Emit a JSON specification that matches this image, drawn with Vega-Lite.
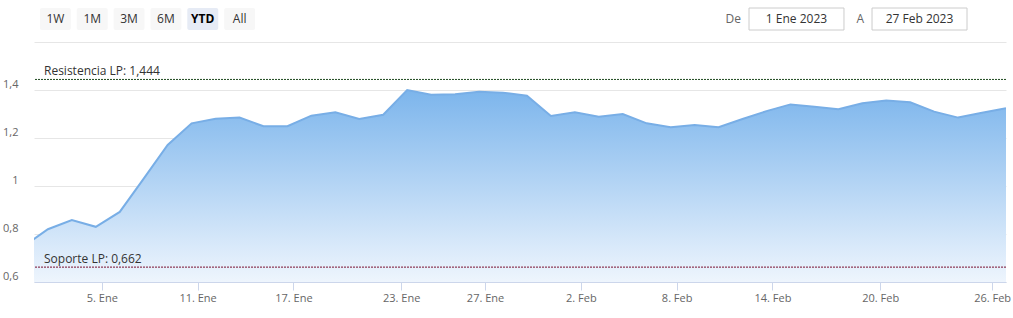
{
  "$schema": "https://vega.github.io/schema/vega-lite/v6.json",
  "autosize": {"type": "pad"},
  "padding": {"left": 2, "top": 7, "right": 0, "bottom": 0},
  "background": "white",
  "config": {"view": {"stroke": null}, "font": "Open Sans"},
  "datasets": {
    "buttons": [
      {"label": "1W", "selected": "no"},
      {"label": "1M", "selected": "no"},
      {"label": "3M", "selected": "no"},
      {"label": "6M", "selected": "no"},
      {"label": "YTD", "selected": "yes"},
      {"label": "All", "selected": "no"}
    ],
    "range": [
      {"label": "De", "value": "1 Ene 2023"},
      {"label": "A", "value": "27 Feb 2023"}
    ],
    "levels": [
      {"level": "Resistencia LP", "value": 1.444, "label": "Resistencia LP: 1,444"},
      {"level": "Soporte LP", "value": 0.662, "label": "Soporte LP: 0,662"}
    ],
    "prices": [
      {"i": -1, "date": "2022-12-30", "value": 0.749},
      {"i": 0, "date": "2023-01-02", "value": 0.820},
      {"i": 1, "date": "2023-01-03", "value": 0.858},
      {"i": 2, "date": "2023-01-04", "value": 0.830},
      {"i": 3, "date": "2023-01-05", "value": 0.892},
      {"i": 4, "date": "2023-01-06", "value": 1.031},
      {"i": 5, "date": "2023-01-09", "value": 1.171},
      {"i": 6, "date": "2023-01-10", "value": 1.261},
      {"i": 7, "date": "2023-01-11", "value": 1.280},
      {"i": 8, "date": "2023-01-12", "value": 1.285},
      {"i": 9, "date": "2023-01-13", "value": 1.249},
      {"i": 10, "date": "2023-01-16", "value": 1.249},
      {"i": 11, "date": "2023-01-17", "value": 1.293},
      {"i": 12, "date": "2023-01-18", "value": 1.307},
      {"i": 13, "date": "2023-01-19", "value": 1.279},
      {"i": 14, "date": "2023-01-20", "value": 1.297},
      {"i": 15, "date": "2023-01-23", "value": 1.400},
      {"i": 16, "date": "2023-01-24", "value": 1.380},
      {"i": 17, "date": "2023-01-25", "value": 1.382},
      {"i": 18, "date": "2023-01-26", "value": 1.393},
      {"i": 19, "date": "2023-01-27", "value": 1.389},
      {"i": 20, "date": "2023-01-30", "value": 1.376},
      {"i": 21, "date": "2023-01-31", "value": 1.292},
      {"i": 22, "date": "2023-02-01", "value": 1.307},
      {"i": 23, "date": "2023-02-02", "value": 1.289},
      {"i": 24, "date": "2023-02-03", "value": 1.300},
      {"i": 25, "date": "2023-02-06", "value": 1.261},
      {"i": 26, "date": "2023-02-07", "value": 1.245},
      {"i": 27, "date": "2023-02-08", "value": 1.254},
      {"i": 28, "date": "2023-02-09", "value": 1.245},
      {"i": 29, "date": "2023-02-10", "value": 1.279},
      {"i": 30, "date": "2023-02-13", "value": 1.312},
      {"i": 31, "date": "2023-02-14", "value": 1.340},
      {"i": 32, "date": "2023-02-15", "value": 1.330},
      {"i": 33, "date": "2023-02-16", "value": 1.320},
      {"i": 34, "date": "2023-02-17", "value": 1.345},
      {"i": 35, "date": "2023-02-20", "value": 1.356},
      {"i": 36, "date": "2023-02-21", "value": 1.349},
      {"i": 37, "date": "2023-02-22", "value": 1.310},
      {"i": 38, "date": "2023-02-23", "value": 1.285},
      {"i": 39, "date": "2023-02-24", "value": 1.305},
      {"i": 40, "date": "2023-02-27", "value": 1.324}
    ]
  },
  "spacing": 11,
  "vconcat": [
    {
      "spacing": 488,
      "bounds": "flush",
      "hconcat": [
        {
          "data": {"name": "buttons"},
          "width": 227,
          "height": 22,
          "encoding": {
            "x": {"field": "label", "type": "nominal", "sort": null, "axis": null,
                  "scale": {"paddingInner": 0.16, "paddingOuter": 0.16}}
          },
          "layer": [
            {
              "mark": {"type": "rect", "cornerRadius": 2},
              "encoding": {
                "color": {"field": "selected", "type": "nominal", "legend": null,
                          "scale": {"domain": ["no", "yes"], "range": ["#f7f7f7", "#e6ebf5"]}}
              }
            },
            {
              "transform": [{"filter": "datum.selected == 'no'"}],
              "mark": {"type": "text", "fontSize": 12, "color": "#333333"},
              "encoding": {"text": {"field": "label"}}
            },
            {
              "transform": [{"filter": "datum.selected == 'yes'"}],
              "mark": {"type": "text", "fontSize": 12, "fontWeight": "bold", "color": "#000000"},
              "encoding": {"text": {"field": "label"}}
            }
          ]
        },
        {
          "data": {"name": "range"},
          "width": 218,
          "height": 22,
          "layer": [
            {
              "mark": {"type": "rect", "fill": "white", "stroke": "#cccccc", "strokeWidth": 1},
              "encoding": {
                "x": {"field": "value", "type": "nominal", "sort": null, "axis": null,
                      "scale": {"paddingInner": 0.228, "paddingOuter": 0}}
              }
            },
            {
              "mark": {"type": "text", "fontSize": 12, "color": "#333333"},
              "encoding": {
                "x": {"field": "value", "type": "nominal", "sort": null, "axis": null},
                "text": {"field": "value"}
              }
            },
            {
              "mark": {"type": "text", "fontSize": 12, "color": "#666666", "align": "right", "dx": -8},
              "encoding": {
                "x": {"field": "value", "type": "nominal", "sort": null, "axis": null, "bandPosition": 0},
                "text": {"field": "label"}
              }
            }
          ]
        }
      ]
    },
    {
      "width": 972,
      "height": 240,
      "resolve": {"axis": {"y": "independent"}},
      "layer": [
        {
          "data": {"name": "prices"},
          "mark": {
            "type": "area",
            "clip": true,
            "fill": {
              "gradient": "linear",
              "x1": 0, "y1": 0, "x2": 0, "y2": 1,
              "stops": [
                {"offset": 0, "color": "#7cb5ec"},
                {"offset": 1, "color": "#eef5fd"}
              ]
            }
          },
          "encoding": {
            "x": {
              "field": "i", "type": "quantitative",
              "scale": {"domain": [-0.58, 40], "nice": false, "zero": false},
              "axis": {
                "title": null,
                "values": [2.25, 6.25, 10.25, 14.75, 18.25, 22.25, 26.25, 30.25, 34.75, 39.42],
                "labelExpr": "datum.value < 3 ? '5. Ene' : datum.value < 7 ? '11. Ene' : datum.value < 11 ? '17. Ene' : datum.value < 15 ? '23. Ene' : datum.value < 19 ? '27. Ene' : datum.value < 23 ? '2. Feb' : datum.value < 27 ? '8. Feb' : datum.value < 31 ? '14. Feb' : datum.value < 35 ? '20. Feb' : '26. Feb'",
                "grid": false,
                "domainColor": "#ccd6eb",
                "tickColor": "#ccd6eb",
                "tickSize": 8,
                "labelColor": "#666666",
                "labelFontSize": 11,
                "labelBaseline": "alphabetic",
                "labelPadding": 11,
                "labelFlush": false,
                "labelOverlap": false
              }
            },
            "y": {
              "field": "value", "type": "quantitative",
              "scale": {"domain": [0.6, 1.6], "nice": false, "zero": false},
              "axis": {
                "title": null,
                "values": [0.6, 0.8, 1, 1.2, 1.4],
                "labelExpr": "replace(format(datum.value, '~g'), '.', ',')",
                "grid": true,
                "gridColor": "#e6e6e6",
                "domain": false,
                "ticks": false,
                "tickSize": 0,
                "labelColor": "#666666",
                "labelFontSize": 11,
                "labelPadding": 16,
                "labelBaseline": "alphabetic",
                "labelOffset": -3,
                "labelFlush": false,
                "labelOverlap": false
              }
            },
            "y2": {"datum": 0.6}
          }
        },
        {
          "data": {"name": "prices"},
          "mark": {"type": "line", "clip": true, "color": "#78aee6", "strokeWidth": 2},
          "encoding": {
            "x": {"field": "i", "type": "quantitative"},
            "y": {"field": "value", "type": "quantitative", "axis": null}
          }
        },
        {
          "data": {"name": "levels"},
          "transform": [{"filter": "datum.level == 'Resistencia LP'"}],
          "mark": {"type": "rule", "strokeDash": [2, 1], "strokeWidth": 1, "color": "#1f4a1f"},
          "encoding": {
            "y": {
              "field": "value", "type": "quantitative",
              "axis": {"orient": "right", "values": [1.6], "grid": true, "gridColor": "#e6e6e6",
                       "labels": false, "ticks": false, "domain": false, "title": null}
            }
          }
        },
        {
          "data": {"name": "levels"},
          "transform": [{"filter": "datum.level == 'Soporte LP'"}],
          "mark": {"type": "rule", "strokeDash": [2, 1], "strokeWidth": 1, "color": "#7a1030"},
          "encoding": {
            "y": {"field": "value", "type": "quantitative", "axis": null}
          }
        },
        {
          "data": {"name": "levels"},
          "mark": {"type": "text", "fontSize": 12, "color": "#333333", "align": "left", "baseline": "alphabetic", "dx": 10, "dy": -4},
          "encoding": {
            "x": {"datum": -0.58, "type": "quantitative"},
            "y": {"field": "value", "type": "quantitative", "axis": null},
            "text": {"field": "label"}
          }
        }
      ]
    }
  ]
}
